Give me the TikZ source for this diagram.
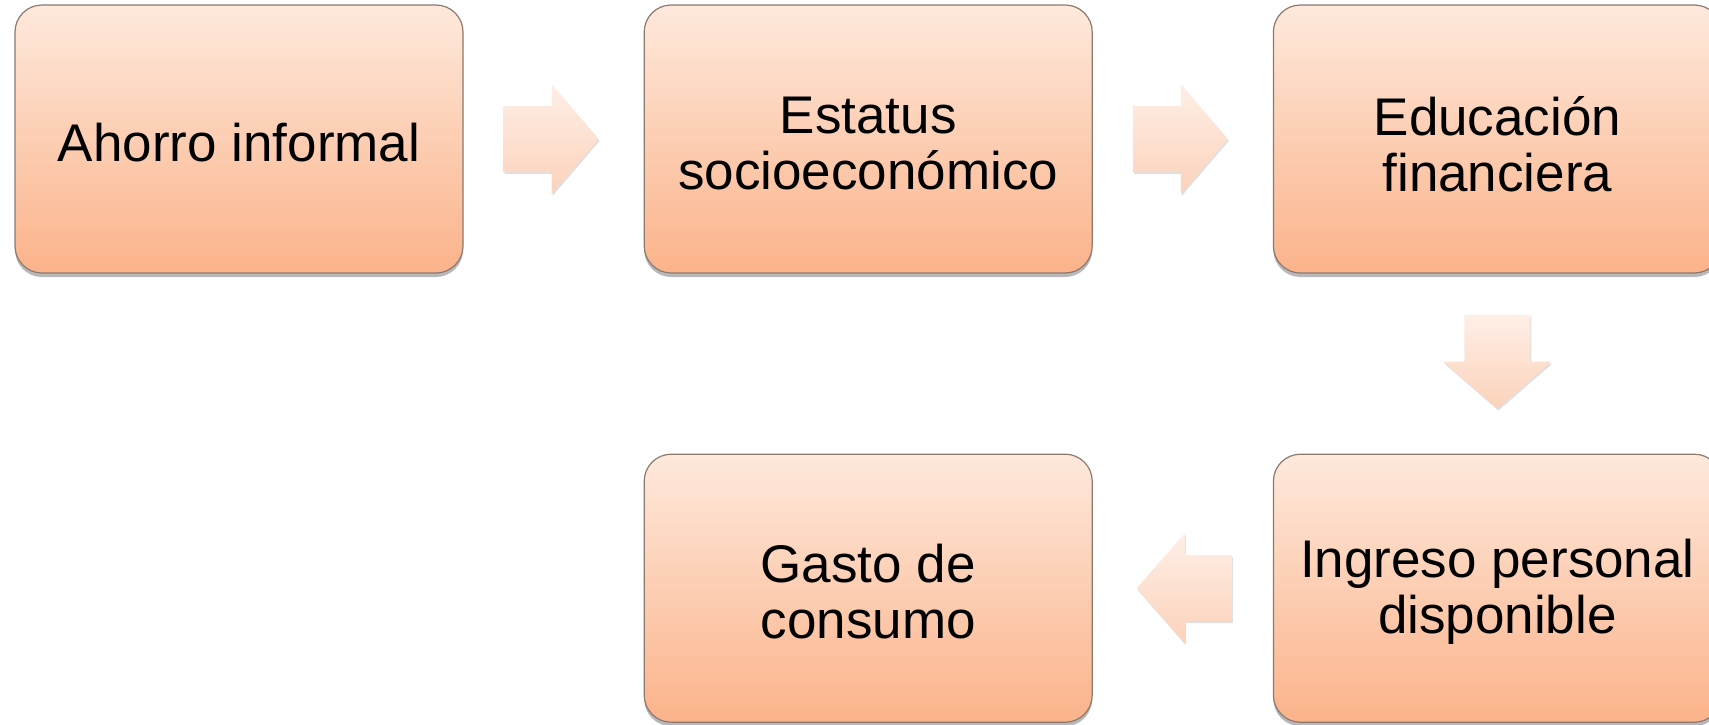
\documentclass[tikz,border=0pt]{standalone}
\usepackage{fontspec}
\setmainfont{Liberation Sans}
\usetikzlibrary{positioning,calc,shadows}

\definecolor{boxtop}{HTML}{FEE9DC}
\definecolor{boxbottom}{HTML}{FBB38A}
\definecolor{boxline}{HTML}{8C7A70}
\definecolor{arrowtop}{HTML}{FEEFE7}
\definecolor{arrowbottom}{HTML}{FCD2BA}

\begin{document}
\begin{tikzpicture}[
      x=1pt, y=-1pt,
      node distance=180pt,
      box_node/.style={
         rectangle,
         rounded corners=27pt,
         draw=boxline,
         line width=1.2pt,
         top color=boxtop,
         bottom color=boxbottom,
         minimum width=448pt,
         minimum height=268pt,
         align=center,
         inner sep=0pt,
         font=\fontsize{53}{56}\selectfont,
         drop shadow={shadow xshift=0pt, shadow yshift=-4pt, fill=black, opacity=0.28}},
      one_line/.style={text height=45pt},
      two_line/.style={text height=102pt},
      arrow_fill/.style={
         top color=arrowtop,
         bottom color=arrowbottom,
         drop shadow={shadow xshift=1pt, shadow yshift=-2pt, fill=black, opacity=0.12}}
]
      \useasboundingbox (0,0) rectangle (1709,724);

      %upper row
      \node[box_node,one_line] (ahorro) at (239,139) {Ahorro informal};
      \node[box_node,two_line,right=of ahorro] (estatus) {Estatus\\socioeconómico};
      \node[box_node,two_line,text height=106pt,right=of estatus] (educacion) {Educación\\financiera};

      %lower row
      \node[box_node,two_line,below=of educacion] (ingreso) {Ingreso personal\\disponible};
      \node[box_node,two_line,left=of ingreso] (gasto) {Gasto de\\consumo};

      %block arrows in the gaps
      \coordinate (gap1) at ($(ahorro.east)!0.5!(estatus.west)$);
      \coordinate (gap2) at ($(estatus.east)!0.5!(educacion.west)$);
      \coordinate (gap3) at ($(educacion.south)!0.5!(ingreso.north)$);
      \coordinate (gap4) at ($(gasto.east)!0.5!(ingreso.west)$);

    \foreach \g in {gap1,gap2}
 \shade[arrow_fill,shift={(\g)}] (-50,-33) -- (-2,-33) -- (-2,-55) -- (45,0) -- (-2,55) -- (-2,33) -- (-50,33) -- cycle;

 \shade[arrow_fill,shift={(gap3)}] (-33,-49) -- (33,-49) -- (33,-2) -- (54,-2) -- (0,45) -- (-54,-2) -- (-33,-2) -- cycle;
 \shade[arrow_fill,shift={(gap4)}] (49,-33) -- (2,-33) -- (2,-55) -- (-46,0) -- (2,55) -- (2,33) -- (49,33) -- cycle;
\end{tikzpicture}
\end{document}
